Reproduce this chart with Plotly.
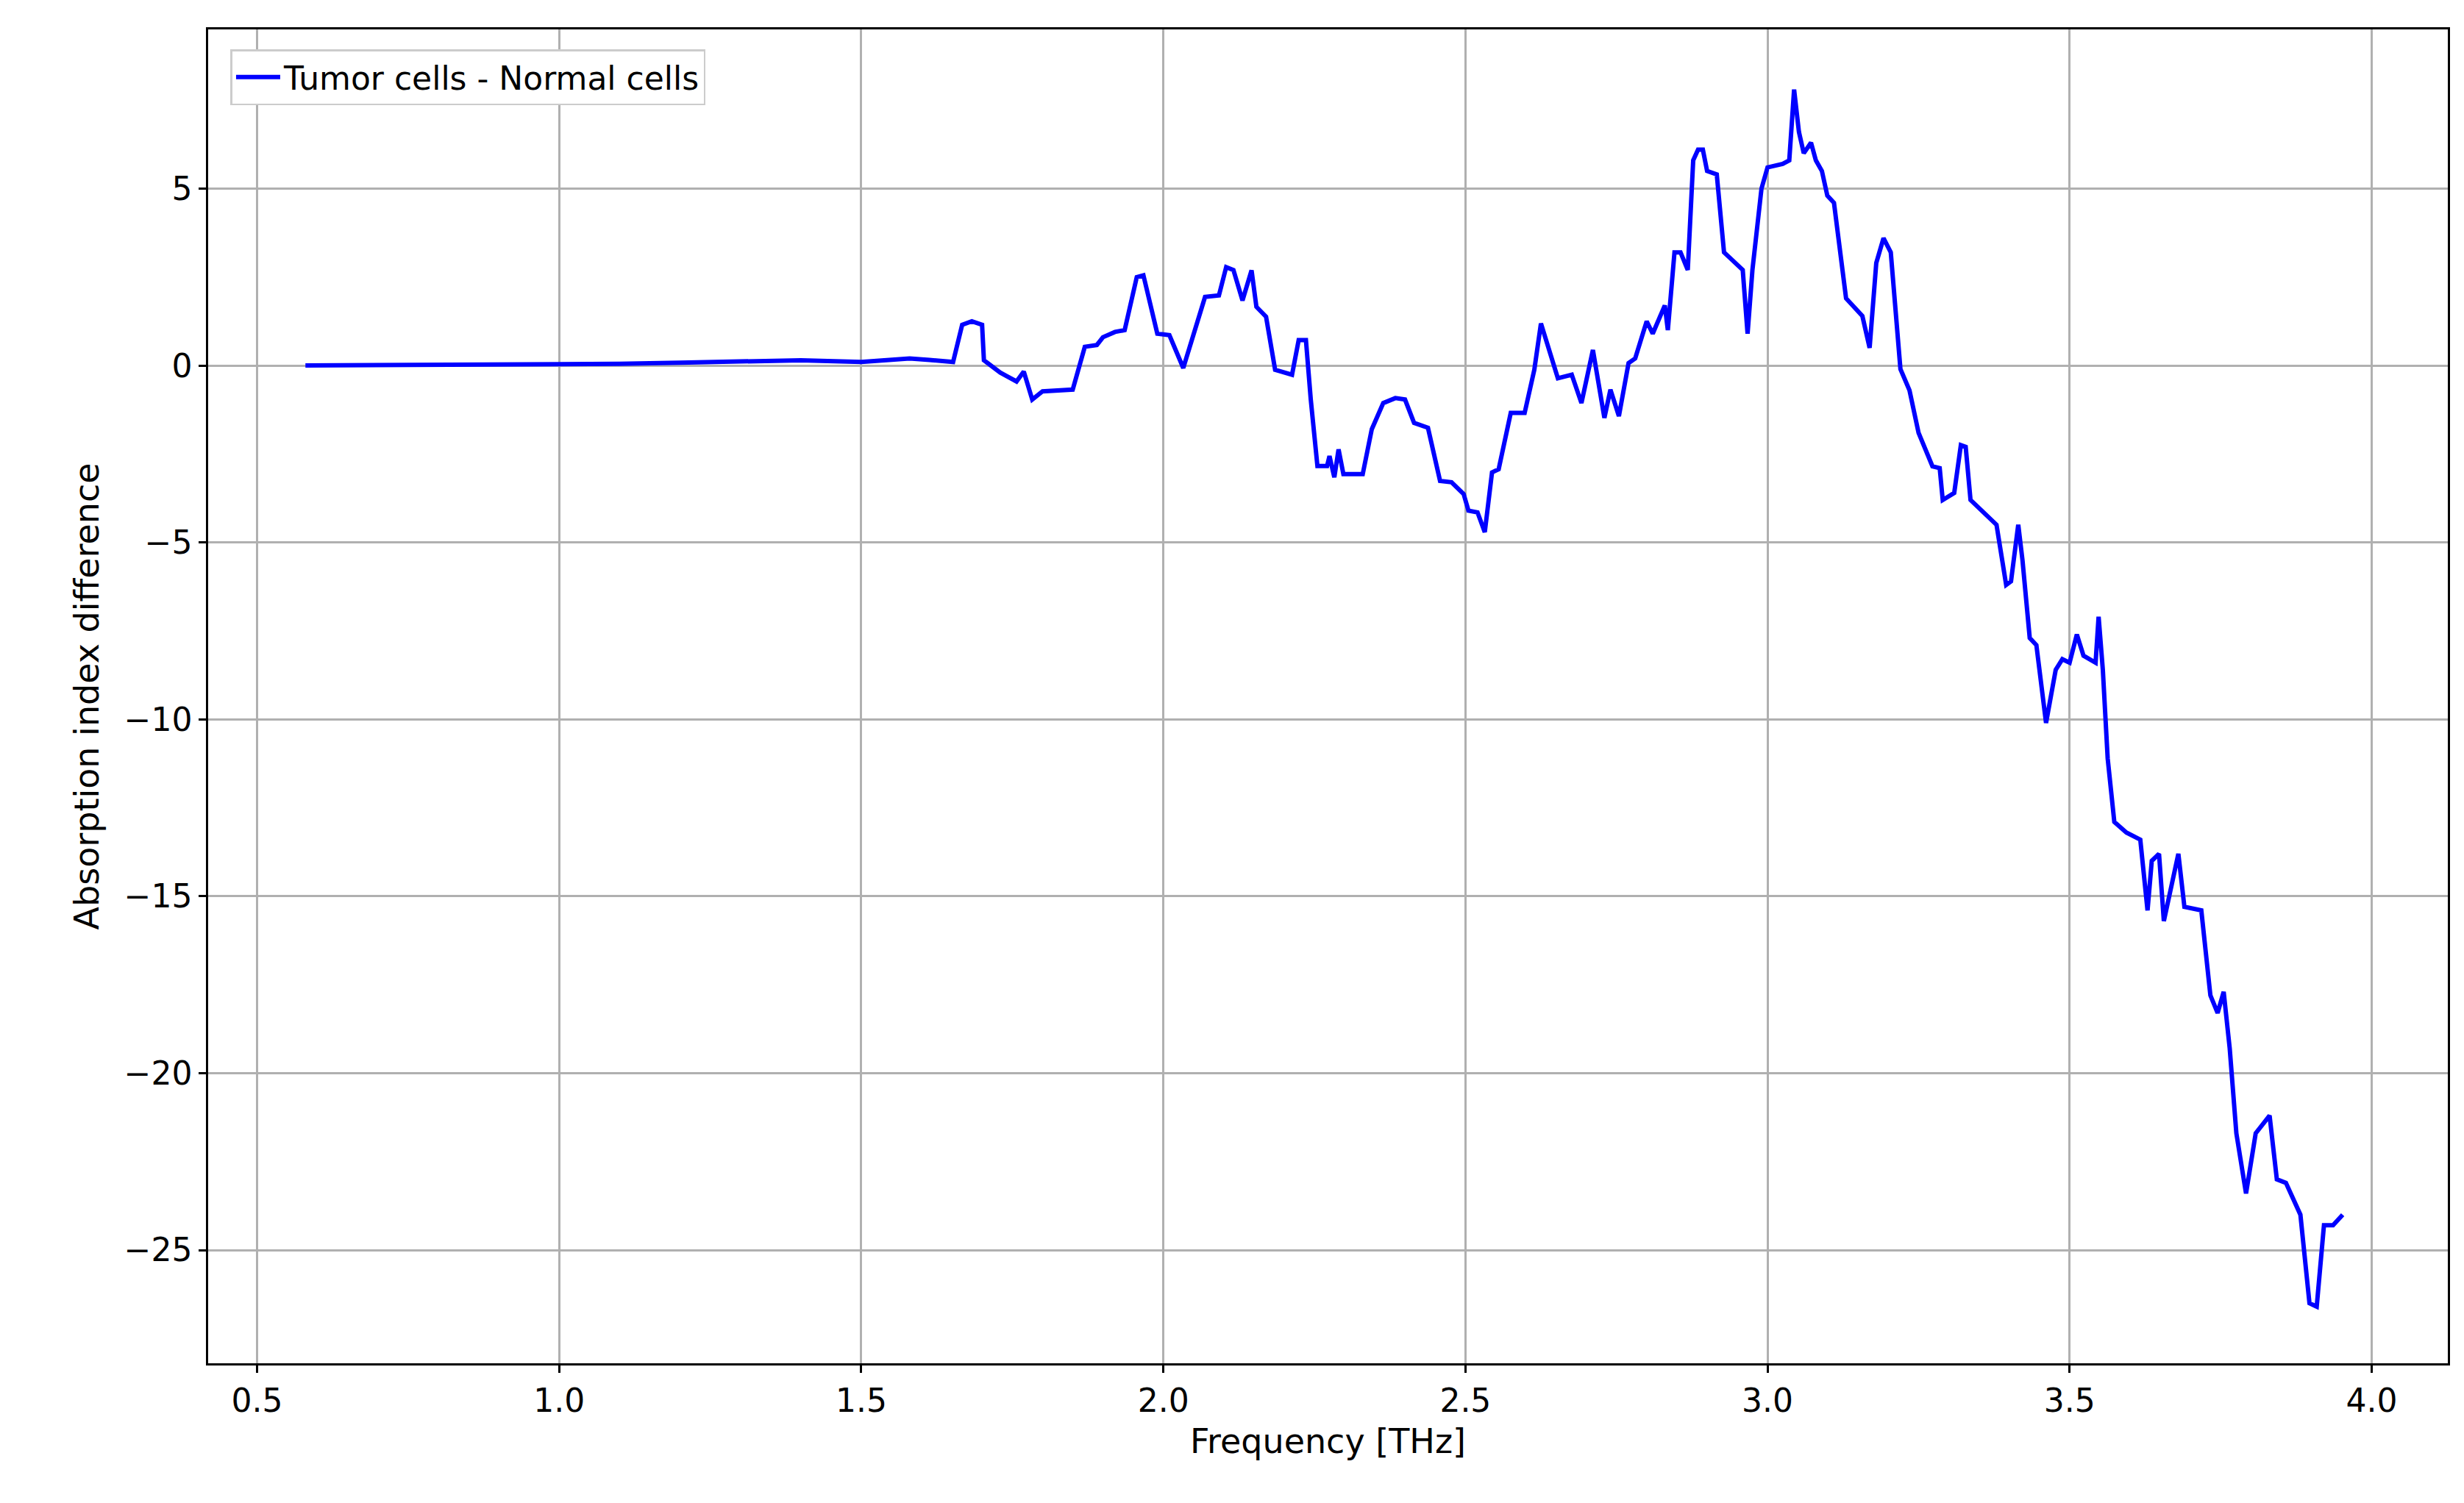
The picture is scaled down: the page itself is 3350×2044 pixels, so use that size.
import plotly.graph_objects as go

# frequency [THz] and absorption index difference
freq = [0.58, 0.8, 1.0, 1.1, 1.2, 1.3, 1.4, 1.5, 1.58, 1.613, 1.652, 1.667, 1.683, 1.70, 1.703,
        1.73, 1.757, 1.769, 1.783, 1.80, 1.85, 1.87, 1.89, 1.90, 1.92, 1.936, 1.956, 1.967,
        1.99, 2.01, 2.033, 2.069, 2.092, 2.104, 2.116, 2.131, 2.146, 2.154, 2.17, 2.185,
        2.213, 2.224, 2.236, 2.244, 2.255, 2.271, 2.275, 2.283, 2.29, 2.298, 2.33, 2.345,
        2.364, 2.384, 2.40, 2.415, 2.438, 2.458, 2.477, 2.497, 2.505, 2.52, 2.532, 2.544,
        2.555, 2.575, 2.598, 2.614, 2.625, 2.653, 2.676, 2.692, 2.711, 2.73, 2.74, 2.754,
        2.77, 2.781, 2.80, 2.81, 2.83, 2.835, 2.846, 2.856, 2.868, 2.877, 2.885, 2.893,
        2.90, 2.916, 2.928, 2.959, 2.967, 2.975, 2.99, 3.0, 3.025, 3.036, 3.044, 3.052,
        3.06, 3.072, 3.08, 3.09, 3.099, 3.11, 3.13, 3.157, 3.169, 3.18, 3.192, 3.204,
        3.22, 3.235, 3.25, 3.273, 3.285, 3.29, 3.309, 3.32, 3.328, 3.336, 3.367, 3.379,
        3.395, 3.403, 3.415, 3.422, 3.434, 3.445, 3.461, 3.477, 3.488, 3.5, 3.512, 3.523,
        3.543, 3.548, 3.555, 3.563, 3.574, 3.594, 3.617, 3.629, 3.636, 3.648, 3.656,
        3.668, 3.68, 3.69, 3.718, 3.733, 3.745, 3.755, 3.765, 3.776, 3.792, 3.808, 3.831,
        3.843, 3.858, 3.882, 3.897, 3.909, 3.921, 3.936, 3.952]
diff = [0.0, 0.01, 0.03, 0.05, 0.08, 0.1, 0.15, 0.1, 0.2, 0.16, 0.1, 1.15, 1.25, 1.15, 0.15,
        -0.2, -0.45, -0.17, -0.96, -0.73, -0.68, 0.53, 0.58, 0.8, 0.95, 1.0, 2.5, 2.55,
        0.9, 0.86, -0.07, 1.94, 1.98, 2.78, 2.7, 1.84, 2.69, 1.66, 1.38, -0.12,
        -0.26, 0.72, 0.72, -0.96, -2.84, -2.84, -2.56, -3.16, -2.37, -3.07, -3.07, -1.8,
        -1.06, -0.92, -0.96, -1.62, -1.76, -3.26, -3.3, -3.63, -4.1, -4.15, -4.71, -3.02,
        -2.93, -1.34, -1.34, -0.12, 1.19, -0.36, -0.26, -1.06, 0.44, -1.48, -0.68, -1.43,
        0.07, 0.2, 1.25, 0.9, 1.7, 1.0, 3.2, 3.2, 2.7, 5.8, 6.1, 6.1,
        5.5, 5.4, 3.2, 2.7, 0.9, 2.7, 5.0, 5.6, 5.7, 5.8, 7.8, 6.6,
        6.0, 6.3, 5.8, 5.5, 4.8, 4.6, 1.9, 1.4, 0.5, 2.9, 3.6, 3.2,
        -0.1, -0.7, -1.9, -2.85, -2.9, -3.8, -3.6, -2.25, -2.3, -3.8, -4.3, -4.5,
        -6.2, -6.1, -4.5, -5.5, -7.7, -7.9, -10.1, -8.6, -8.3, -8.4, -7.6, -8.2,
        -8.4, -7.1, -8.6, -11.1, -12.9, -13.2, -13.4, -15.4, -14.0, -13.8, -15.7,
        -14.8, -13.8, -15.3, -15.4, -17.8, -18.3, -17.7, -19.3, -21.7, -23.4, -21.7, -21.2,
        -23.0, -23.1, -24.0, -26.5, -26.6, -24.3, -24.3, -24.0]

x_ticks = [0.5, 1.0, 1.5, 2.0, 2.5, 3.0, 3.5, 4.0]
y_ticks = [5, 0, -5, -10, -15, -20, -25]

fig = go.Figure(go.Scatter(x=freq, y=diff, mode="lines", name="Tumor cells - Normal cells",
                           line=dict(color="#0000ff", width=6)))

axis_common = dict(showline=True, linecolor="black", linewidth=2.5, mirror=True,
                   showgrid=True, gridcolor="#b0b0b0", gridwidth=2.5, zeroline=False,
                   ticks="outside", ticklen=10, tickwidth=2.5, tickcolor="black",
                   tickfont=dict(size=44, color="black"))

fig.update_layout(
    width=3350, height=2044,
    paper_bgcolor="white", plot_bgcolor="white",
    font=dict(family="DejaVu Sans", color="black"),
    margin=dict(l=275, r=30, t=32, b=198),
    xaxis=dict(range=[0.419, 4.126], tickvals=x_ticks, ticktext=[f"{v:.1f}" for v in x_ticks],
               title=dict(text="Frequency [THz]", font=dict(size=46), standoff=16), **axis_common),
    yaxis=dict(range=[-28.2, 9.5], tickvals=y_ticks, ticktext=[str(v).replace("-", "\u2212") for v in y_ticks],
               title=dict(text="Absorption index difference", font=dict(size=46), standoff=20), **axis_common),
    showlegend=True,
    legend=dict(x=0.01, y=0.985, xanchor="left", yanchor="top", bgcolor="white",
                bordercolor="#cccccc", borderwidth=2.5, font=dict(size=44),
                itemwidth=60),
)

fig.write_html("out.html")
